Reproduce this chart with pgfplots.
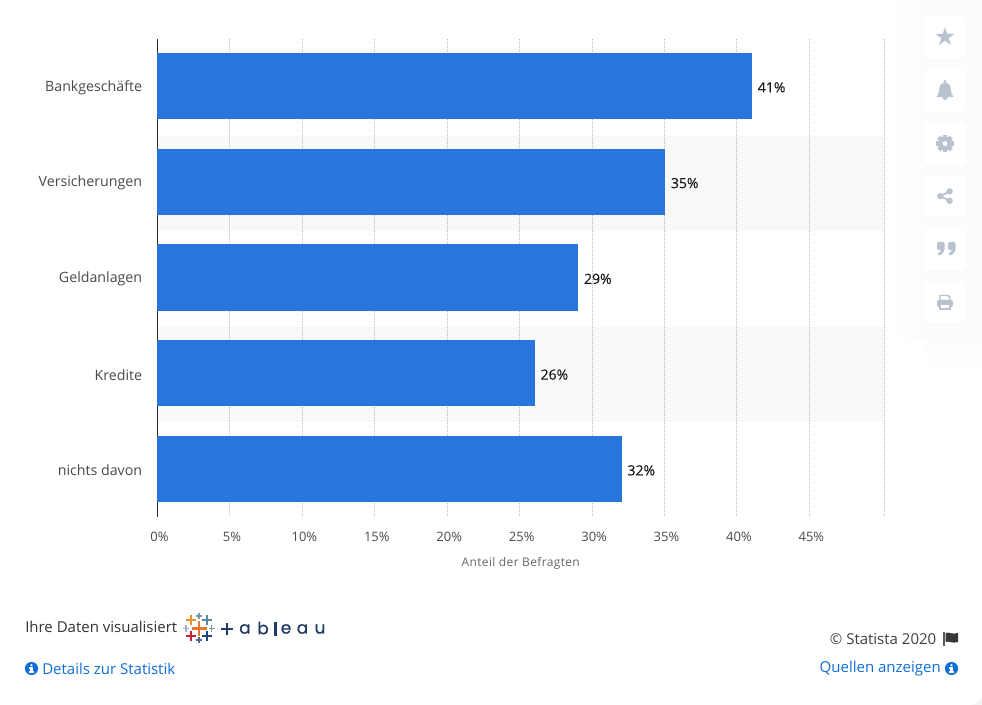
\documentclass[border=0pt]{standalone}
\usepackage{pgfplots}
\pgfplotsset{compat=1.18}
\usepackage{fontspec}
\setmainfont{Open Sans}
\newfontfamily\djv{DejaVu Sans}
\newfontfamily\logo[FakeBold=0.6]{Poppins}
\newfontfamily\semi[FakeBold=0.2]{Open Sans}
\definecolor{barblue}{HTML}{2875DE}
\definecolor{linkblue}{HTML}{0F6FD6}
\definecolor{iconc}{HTML}{B9C3D0}
\definecolor{txt}{HTML}{4A4A4A}
\definecolor{navy}{HTML}{1F3A64}
\definecolor{pageb}{HTML}{F3F4F6}
\definecolor{sidec}{HTML}{FCFCFD}
\definecolor{bandc}{HTML}{F9F9F9}
\definecolor{tA}{HTML}{E8762B}
\definecolor{tB}{HTML}{EB912B}
\definecolor{tC}{HTML}{5B879B}
\definecolor{tD}{HTML}{C72035}
\definecolor{tE}{HTML}{1F457E}
\definecolor{tF}{HTML}{7099A6}
\definecolor{tG}{HTML}{5B6591}
\definecolor{tH}{HTML}{9FB3C4}
\newcommand{\px}[1]{\fontsize{\the\dimexpr #1pt*3/4\relax}{\the\dimexpr #1pt*9/10\relax}\selectfont}
\newcommand{\plusm}[5]{\draw[#4,line width=#5*0.75pt] (#1-#3,#2)--(#1+#3,#2) (#1,#2-#3)--(#1,#2+#3);}
\newcommand{\sidebox}[1]{%
  \fill[black!2,rounded corners=3pt] (922.5,#1-21.5) rectangle (967,#1+23);
  \fill[white,rounded corners=3pt] (923.5,#1-21) rectangle (966,#1+21.5);}
\newcommand{\info}[2]{%
  \fill[linkblue] (#1,#2) circle (6.6);
  \fill[white] (#1,#2-3.4) circle (1.3);
  \fill[white] (#1-1.3,#2-1.2) rectangle (#1+1.3,#2+2.8);
  \fill[white] (#1-2.6,#2+2.2) rectangle (#1+2.6,#2+4);
  \fill[white] (#1-2.6,#2-1.2) rectangle (#1,#2+0.2);}
\begin{document}
\begin{tikzpicture}[x=0.75pt,y=-0.75pt]
\useasboundingbox (0,0) rectangle (982,705);
\fill[pageb] (0,0) rectangle (982,705);
\fill[white,rounded corners=9pt] (-20,-20) rectangle (982,705);
\shade[left color=white,right color=sidec] (893,-2) rectangle (925,340);
\fill[sidec] (925,-2) rectangle (982,340);
\shade[top color=sidec,bottom color=white] (925,340) rectangle (982,370);
% bands
\fill[bandc] (157.5,136) rectangle (884,231);
\fill[bandc] (157.5,327) rectangle (884,422);
\begin{axis}[
  at={(118.125pt,-387.75pt)},anchor=south west,
  scale only axis,width=544.875pt,height=358.5pt,
  xmin=0,xmax=50.15,ymin=-0.491,ymax=4.501,y dir=reverse,
  axis x line*=bottom,
  x axis line style={draw=none,-},
  axis y line*=left,
  y axis line style={draw=black!85,line width=0.9pt,-},
  xtick={0,5,10,15,20,25,30,35,40,45,50.15},
  xticklabels={0\%,5\%,10\%,15\%,20\%,25\%,30\%,35\%,40\%,45\%,},
  ytick={0,1,2,3,4},
  yticklabels={Bankgeschäfte,Versicherungen,Geldanlagen,Kredite,nichts davon},
  major tick length=0pt,
  xmajorgrids,
  x grid style={draw=black!28,line width=0.75pt,dash pattern=on 0.75pt off 0.75pt},
  tick label style={font=\px{13},text=txt},
  xticklabel style={yshift=-7.5pt,xshift=1.5pt},
  yticklabel style={xshift=-8pt,yshift=-1.1pt,font=\px{14.2}},
  xlabel={\px{12}\addfontfeature{LetterSpace=3}Anteil der Befragten},
  xlabel style={text=black!60,yshift=-4.8pt,xshift=0pt},
  xbar,bar width=49pt,
  /pgf/number format/assume math mode=true,
  nodes near coords={\pgfmathprintnumber{\pgfplotspointmeta}\%},
  nodes near coords style={font=\semi\px{14},text=black!90,xshift=1.5pt,yshift=-1pt},
]
\addplot[fill=barblue,draw=barblue,line width=0pt] coordinates {(41,0) (35,1) (29,2) (26,3) (32,4)};
\end{axis}
% side buttons
\foreach \yy in {37.5,90,143.5,196,249,302}{\sidebox{\yy}}
\node[text=iconc,font=\djv\px{25},inner sep=0pt] at (945,36.5) {★};
% gear
\foreach \a in {0,45,...,315}{
  \fill[iconc,rotate around={\a:(945,143.5)}] (942.7,134.8) rectangle (947.3,139);
}
\fill[iconc,even odd rule] (945,143.5) circle (6.8) (945,143.5) circle (2.6);
% bell
\fill[iconc] (936.5,97) .. controls (939.5,93) and (939,90) .. (939.5,87.5) .. controls (940,84) and (943,82.5) .. (945,82.5) .. controls (947,82.5) and (950,84) .. (950.5,87.5) .. controls (951,90) and (950.5,93) .. (953.5,97) -- cycle;
\fill[iconc] (945,81.5) circle (1.6) (945,97.5) circle (2.6);
% share
\fill[iconc] (949.6,191.4) circle (3.2) (940.3,196.2) circle (3.2) (949.6,200.8) circle (3.2);
\draw[iconc,line width=1.3pt] (949.6,191.4)--(940.3,196.2)--(949.6,200.8);
% quotes
\foreach \dx in {937,948}{
  \fill[iconc,rounded corners=1pt] (\dx,242) rectangle (\dx+7.5,250);
  \fill[iconc] (\dx+7.5,248) .. controls (\dx+7.5,253) and (\dx+4,255.5) .. (\dx+1,255.5) -- (\dx+1,253) .. controls (\dx+3,252.5) and (\dx+4,251) .. (\dx+4,249) -- cycle;
}
% printer
\draw[iconc,line width=1.1pt] (940,302) -- (940,295.5) -- (948,295.5) -- (950,297.5) -- (950,302);
\fill[iconc,rounded corners=1pt] (937,300) rectangle (953,307);
\draw[iconc,line width=1.2pt,fill=white] (940,304.5) rectangle (950,309);
% footer left
\node[anchor=west,text=black!80,font=\px{15},inner sep=0pt] at (25,627) {Ihre Daten visualisiert};
\plusm{199}{628.3}{7.5}{tA}{2.4}
\plusm{191}{620}{5}{tB}{2}
\plusm{207}{620}{5}{tC}{2}
\plusm{191}{636}{5}{tD}{2}
\plusm{207}{636}{5}{tE}{2}
\plusm{199}{616}{3.2}{tF}{1.5}
\plusm{199}{640}{3.2}{tG}{1.5}
\plusm{186}{628.3}{3.2}{tH}{1.5}
\plusm{211.7}{628.3}{3.2}{tF}{1.5}
\plusm{227}{629}{6}{navy}{2.4}
\node[text=navy,font=\logo\px{17},inner sep=0pt] at (245,629) {a};
\node[text=navy,font=\logo\px{17},inner sep=0pt] at (263,628) {b};
\draw[navy,line width=1.6pt] (275.5,622)--(275.5,636);
\node[text=navy,font=\logo\px{17},inner sep=0pt] at (286,629) {e};
\node[text=navy,font=\logo\px{17},inner sep=0pt] at (302.5,629) {a};
\node[text=navy,font=\logo\px{17},inner sep=0pt] at (320,629) {u};
\info{31.5}{668.5}
\node[anchor=west,text=linkblue,font=\px{15},inner sep=0pt] at (42,668.5) {Details zur Statistik};
% footer right
\node[anchor=east,text=black!75,font=\px{15},inner sep=0pt] at (936.5,639) {© Statista 2020};
% flag
\draw[black!65,line width=0.9pt] (944,632)--(944,646);
\fill[black!78] (945.5,633) .. controls (949,631.5) and (952,635) .. (958,633) -- (958,642) .. controls (952,644) and (949,640.5) .. (945.5,642) -- cycle;
\node[anchor=east,text=linkblue,font=\px{15},inner sep=0pt] at (941,668.5) {Quellen anzeigen};
\info{951.5}{668.5}
\end{tikzpicture}
\end{document}
